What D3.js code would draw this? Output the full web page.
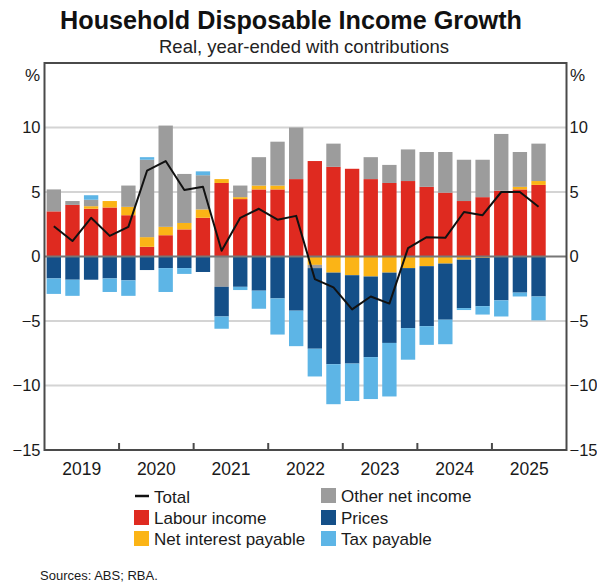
<!DOCTYPE html>
<html>
<head>
<meta charset="utf-8">
<script src="https://cdn.jsdelivr.net/npm/d3@7"></script>
<style>
  html, body { margin: 0; padding: 0; background: #fff; }
  svg { display: block; font-family: "Liberation Sans", Arial, sans-serif; }
</style>
</head>
<body>
<svg id="chart" width="597" height="585"></svg>
<script>
// ---- Data (2019 Q1 – 2025 Q3, quarterly) ----
const quarters = [
  "2019Q1","2019Q2","2019Q3","2019Q4",
  "2020Q1","2020Q2","2020Q3","2020Q4",
  "2021Q1","2021Q2","2021Q3","2021Q4",
  "2022Q1","2022Q2","2022Q3","2022Q4",
  "2023Q1","2023Q2","2023Q3","2023Q4",
  "2024Q1","2024Q2","2024Q3","2024Q4",
  "2025Q1","2025Q2","2025Q3","2025Q4"
];
const labourIncome = [3.5,4.0,3.7,3.8,3.2,0.75,1.65,2.1,3.0,5.7,4.45,5.2,5.2,6.0,7.4,6.95,6.8,6.0,5.7,5.85,5.4,4.95,4.3,4.6,5.1,5.2,5.55];
const netInterest  = [0,0,0.2,0.5,0.65,0.75,0.65,0.5,0.65,0.3,0.15,0.3,0.3,0,-0.65,-1.25,-1.45,-1.55,-1.25,-0.9,-0.75,-0.55,-0.25,-0.1,0,0.2,0.3];
const otherIncome  = [1.7,0.3,0.5,0,1.65,6.0,7.85,3.8,2.65,-2.35,0.9,2.2,3.4,4.0,-0.25,1.8,0,1.7,1.4,2.45,2.7,3.15,3.2,2.9,4.4,2.7,2.9];
const prices       = [-1.7,-1.8,-1.8,-1.7,-1.85,-1.05,-0.9,-0.9,-1.2,-2.3,-2.35,-2.65,-3.25,-4.2,-6.25,-7.1,-6.85,-6.25,-5.45,-4.65,-4.65,-4.35,-3.75,-3.75,-3.4,-2.8,-3.1];
const taxPayable   = [-1.2,-1.25,0.35,-1.05,-1.2,0.2,-1.85,-0.45,0.3,-0.95,-0.25,-1.4,-2.8,-2.75,-2.15,-3.1,-2.9,-3.25,-4.15,-2.45,-1.45,-1.9,-0.15,-0.65,-1.25,-0.3,-1.85];
const total        = [2.35,1.2,3.0,1.6,2.3,6.65,7.4,5.15,5.4,0.45,3.0,3.7,2.85,3.15,-1.75,-2.4,-4.1,-3.1,-3.65,0.65,1.5,1.45,3.45,3.2,5.0,5.0,3.85];
const years = ["2019","2020","2021","2022","2023","2024","2025"];
const yTicks = [-15,-10,-5,0,5,10];
const gridValues = [-10,-5,5,10];

const seriesKeys  = ["labour","interest","other","prices","tax"];
const seriesNames = {labour:"Labour income", interest:"Net interest payable", other:"Other net income", prices:"Prices", tax:"Tax payable"};
const colors = {labour:"#df2a20", interest:"#fbb416", other:"#9c9c9c", prices:"#144f88", tax:"#5db5e6"};

// ---- Build table ----
const rows = labourIncome.map((v,i) => ({
  q: quarters[i], labour: v, interest: netInterest[i], other: otherIncome[i],
  prices: prices[i], tax: taxPayable[i], total: total[i]
}));

// ---- Layout ----
const svg = d3.select("#chart");
const m = {left: 44.5, right: 566.5, top: 63, bottom: 450};

const x = d3.scaleBand().domain(quarters).range([m.left, m.right]).paddingInner(0.23).paddingOuter(0.115);
const y = d3.scaleLinear().domain([-15, 15]).range([m.bottom, m.top]);

// Title
svg.append("text").attr("x", 291).attr("y", 29).attr("text-anchor","middle")
  .attr("font-size", 25.2).attr("font-weight","bold").attr("fill","#111")
  .text("Household Disposable Income Growth");
svg.append("text").attr("x", 304).attr("y", 53).attr("text-anchor","middle")
  .attr("font-size", 18.5).attr("fill","#222")
  .text("Real, year-ended with contributions");

// Gridlines
svg.append("g").selectAll("line").data(gridValues).join("line")
  .attr("x1", m.left).attr("x2", m.right)
  .attr("y1", d => y(d)).attr("y2", d => y(d))
  .attr("stroke", "#d4d4d4").attr("stroke-width", 2);

// Stacked bars
const stack = d3.stack().keys(seriesKeys).offset(d3.stackOffsetDiverging);
const stacked = stack(rows);
svg.append("g").selectAll("g").data(stacked).join("g")
  .attr("fill", d => colors[d.key])
  .selectAll("rect").data(d => d).join("rect")
  .attr("x", d => x(d.data.q))
  .attr("width", x.bandwidth())
  .attr("y", d => y(Math.max(d[0], d[1])))
  .attr("height", d => Math.abs(y(d[0]) - y(d[1])));

// Zero line
svg.append("line").attr("x1", m.left).attr("x2", m.right)
  .attr("y1", y(0)).attr("y2", y(0)).attr("stroke", "#777").attr("stroke-width", 2.2);

// Total line
const line = d3.line().x(d => x(d.q) + x.bandwidth()/2).y(d => y(d.total));
svg.append("path").datum(rows).attr("d", line)
  .attr("fill","none").attr("stroke","#111").attr("stroke-width", 2).attr("stroke-linejoin","round");

// Frame
svg.append("rect").attr("x", m.left).attr("y", m.top)
  .attr("width", m.right - m.left).attr("height", m.bottom - m.top)
  .attr("fill","none").attr("stroke","#4a4a4a").attr("stroke-width", 2);

// Year boundary ticks
const step = x.step();
const boundaries = d3.range(1, years.length).map(k => x(quarters[k*4]) - step*x.paddingInner()/2);
svg.append("g").selectAll("line").data(boundaries).join("line")
  .attr("x1", d => d).attr("x2", d => d)
  .attr("y1", m.bottom).attr("y2", m.bottom - 7)
  .attr("stroke", "#4a4a4a").attr("stroke-width", 2);

// Year labels
svg.append("g").selectAll("text").data(years).join("text")
  .attr("x", (d,k) => (x(quarters[k*4]) + x(quarters[k*4+3]) + x.bandwidth())/2)
  .attr("y", 475).attr("text-anchor","middle").attr("font-size", 17.5).attr("fill","#1a1a1a")
  .text(d => d);

// Y axes
const yAxisL = d3.axisLeft(y).tickValues(yTicks).tickSize(0).tickPadding(4).tickFormat(d3.format("d"));
const yAxisR = d3.axisRight(y).tickValues(yTicks).tickSize(0).tickPadding(3).tickFormat(d3.format("d"));
const gL = svg.append("g").attr("transform", `translate(${m.left},0)`).call(yAxisL);
const gR = svg.append("g").attr("transform", `translate(${m.right},0)`).call(yAxisR);
[gL, gR].forEach(g => {
  g.select(".domain").remove();
  g.selectAll("text").attr("font-size", 16.5).attr("fill", "#1a1a1a")
    .attr("font-family", '"Liberation Sans", Arial, sans-serif');
});
svg.append("text").attr("x", 40).attr("y", 81).attr("text-anchor","end")
  .attr("font-size", 17).attr("fill","#1a1a1a").text("%");
svg.append("text").attr("x", 570).attr("y", 81).attr("text-anchor","start")
  .attr("font-size", 17).attr("fill","#1a1a1a").text("%");

// Legend
const legend = svg.append("g").attr("font-size", 17).attr("fill", "#1a1a1a");
// Total
legend.append("line").attr("x1", 135).attr("x2", 149).attr("y1", 496).attr("y2", 496)
  .attr("stroke", "#111").attr("stroke-width", 2.5);
legend.append("text").attr("x", 154).attr("y", 502.5).text("Total");
const legendItems = [
  {key:"labour",   x:134, y:518},
  {key:"interest", x:134, y:539},
  {key:"other",    x:321, y:496},
  {key:"prices",   x:321, y:518},
  {key:"tax",      x:321, y:539}
];
legendItems.forEach(it => {
  legend.append("rect").attr("x", it.x).attr("y", it.y - 8).attr("width", 15).attr("height", 15)
    .attr("fill", colors[it.key]);
  legend.append("text").attr("x", it.x + 20).attr("y", it.y + 6).text(seriesNames[it.key]);
});

// Source
svg.append("text").attr("x", 40).attr("y", 580).attr("font-size", 13).attr("fill", "#1a1a1a")
  .text("Sources: ABS; RBA.");
</script>
</body>
</html>
